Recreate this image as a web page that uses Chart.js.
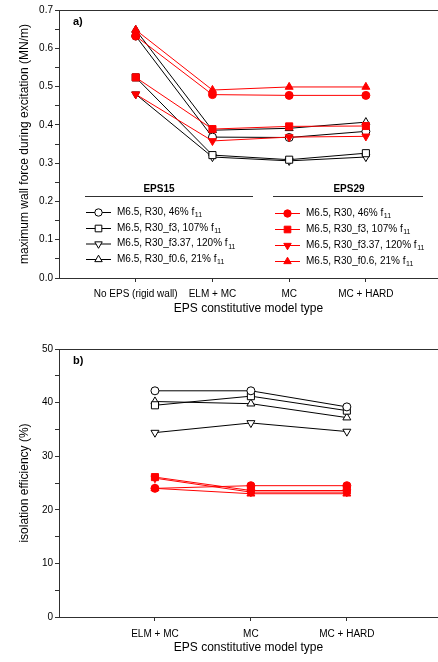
<!DOCTYPE html>
<html><head><meta charset="utf-8">
<script src="https://cdn.jsdelivr.net/npm/chart.js@4.4.0/dist/chart.umd.min.js"></script>
<style>
html,body{margin:0;padding:0;background:#fff;width:438px;height:662px;overflow:hidden}
#a{position:absolute;left:0;top:0}
#b{position:absolute;left:0;top:330px}
</style></head><body>
<canvas id="a" width="444" height="330"></canvas>
<canvas id="b" width="444" height="332"></canvas>
<script>
// ---------- data ----------
const categoriesA = ['No EPS (rigid wall)', 'ELM + MC', 'MC', 'MC + HARD'];
const categoriesB = ['ELM + MC', 'MC', 'MC + HARD'];
const seriesLabels = ['M6.5, R30, 46% f', 'M6.5, R30_f3, 107% f', 'M6.5, R30_f3.37, 120% f', 'M6.5, R30_f0.6, 21% f'];
const groupNames = ['EPS15', 'EPS29'];
const yTicksA = ['0.0','0.1','0.2','0.3','0.4','0.5','0.6','0.7'];
const yTicksB = ['0','10','20','30','40','50'];

// a) maximum wall force (MN/m)
const forceEPS15_46  = [0.632, 0.368, 0.367, 0.383];
const forceEPS15_f3  = [0.524, 0.321, 0.309, 0.326];
const forceEPS15_f337= [0.480, 0.316, 0.306, 0.316];
const forceEPS15_f06 = [0.648, 0.386, 0.391, 0.407];
const forceEPS29_46  = [0.632, 0.479, 0.477, 0.477];
const forceEPS29_f3  = [0.524, 0.389, 0.396, 0.397];
const forceEPS29_f337= [0.480, 0.358, 0.368, 0.370];
const forceEPS29_f06 = [0.648, 0.491, 0.499, 0.499];

// b) isolation efficiency (%)
const effEPS15_46  = [42.2, 42.2, 39.2];
const effEPS15_f3  = [39.5, 41.2, 38.5];
const effEPS15_f337= [34.4, 36.2, 34.6];
const effEPS15_f06 = [40.2, 39.8, 37.2];
const effEPS29_46  = [24.0, 24.5, 24.5];
const effEPS29_f3  = [26.1, 23.6, 23.6];
const effEPS29_f337= [25.9, 23.3, 23.3];
const effEPS29_f06 = [24.0, 23.0, 23.0];

// ---------- styles ----------
const FONT = '"Liberation Sans", Arial, sans-serif';
const RED = '#ff0000', BLK = '#000000', AX = '#303030';
const markers = [
  {style:'circle', rot:0, r:4},
  {style:'rect', rot:0, r:5},
  {style:'triangle', rot:180, r:4.6},
  {style:'triangle', rot:0, r:4.6}
];

function ds(values, idx, red) {
  const m = markers[idx];
  return {
    data: values.map((v, i) => ({x: i, y: v})),
    borderColor: red ? RED : BLK,
    backgroundColor: red ? RED : '#ffffff',
    borderWidth: 1,
    pointStyle: m.style,
    rotation: m.rot,
    pointRadius: m.r,
    pointBorderWidth: 1,
    pointBorderColor: red ? RED : BLK,
    pointBackgroundColor: red ? RED : '#ffffff',
    tension: 0,
    fill: false
  };
}

function drawMarker(ctx, style, rot, x, y, r, fill, stroke) {
  ctx.beginPath();
  if (style === 'circle') {
    ctx.arc(x, y, r, 0, Math.PI * 2);
  } else if (style === 'rect') {
    const s = Math.SQRT1_2 * r;
    ctx.rect(x - s, y - s, 2 * s, 2 * s);
  } else {
    let rad = rot * Math.PI / 180;
    for (let k = 0; k < 3; k++) {
      const px = x + Math.sin(rad) * r, py = y - Math.cos(rad) * r;
      if (k === 0) ctx.moveTo(px, py); else ctx.lineTo(px, py);
      rad += 2 * Math.PI / 3;
    }
    ctx.closePath();
  }
  ctx.fillStyle = fill; ctx.fill();
  ctx.lineWidth = 1; ctx.strokeStyle = stroke; ctx.stroke();
}

function drawSubText(ctx, text, x, y, color) {
  ctx.fillStyle = color;
  ctx.textAlign = 'left'; ctx.textBaseline = 'middle';
  ctx.font = '10px ' + FONT;
  ctx.fillText(text, x, y);
  const w = ctx.measureText(text).width;
  ctx.font = '7px ' + FONT;
  ctx.fillText('11', x + w + 0.5, y + 3.5);
}

function framePlugin(label, withLegend) {
  return {
    id: 'frame' + label,
    afterDraw(chart) {
      const ctx = chart.ctx, a = chart.chartArea;
      ctx.save();
      ctx.strokeStyle = AX; ctx.lineWidth = 1;
      ctx.beginPath(); ctx.moveTo(a.left, a.top + 0.5); ctx.lineTo(a.right, a.top + 0.5); ctx.stroke();
      ctx.fillStyle = '#000'; ctx.font = 'bold 11px ' + FONT;
      ctx.textAlign = 'left'; ctx.textBaseline = 'middle';
      ctx.fillText(label, 73, a.top + 12);
      if (withLegend) {
        const groups = [
          {name: groupNames[0], cx: 159, l0: 85, l1: 253, m0: 86, m1: 111, mx: 98.5, tx: 117, rows: [212, 228, 243.5, 259], red: false},
          {name: groupNames[1], cx: 349, l0: 273, l1: 423, m0: 275, m1: 300, mx: 287.5, tx: 306, rows: [213, 229, 245, 261], red: true}
        ];
        groups.forEach(g => {
          ctx.fillStyle = '#000'; ctx.font = 'bold 10px ' + FONT;
          ctx.textAlign = 'center'; ctx.textBaseline = 'middle';
          ctx.fillText(g.name, g.cx, 189);
          ctx.strokeStyle = AX; ctx.lineWidth = 1;
          ctx.beginPath(); ctx.moveTo(g.l0, 196.5); ctx.lineTo(g.l1, 196.5); ctx.stroke();
          seriesLabels.forEach((t, i) => {
            const y = g.rows[i], col = g.red ? RED : BLK, m = markers[i];
            ctx.strokeStyle = col; ctx.lineWidth = 1;
            ctx.beginPath(); ctx.moveTo(g.m0, y + 0.5); ctx.lineTo(g.m1, y + 0.5); ctx.stroke();
            drawMarker(ctx, m.style, m.rot, g.mx, y + 0.5, m.r - 0.3, g.red ? RED : '#fff', col);
            drawSubText(ctx, t, g.tx, y, '#000');
          });
        });
      }
      ctx.restore();
    }
  };
}

function makeOptions(cfg) {
  const nMinor = cfg.yTickLabels.length * 2 - 1;
  return {
    responsive: false, animation: false, devicePixelRatio: 1,
    layout: {padding: {top: cfg.padTop, left: 0, right: 0, bottom: 0}},
    plugins: {legend: {display: false}, tooltip: {enabled: false}},
    scales: {
      x: {
        type: 'linear', min: -1, max: cfg.xMax,
        afterBuildTicks: s => { s.ticks = cfg.cats.map((c, i) => ({value: i})); },
        afterFit: s => { s.height = cfg.xHeight; },
        ticks: {callback: v => cfg.cats[v] !== undefined ? cfg.cats[v] : '', autoSkip: false, maxRotation: 0, minRotation: 0,
          padding: cfg.xTickPad, color: '#000', font: {family: FONT, size: 10}},
        grid: {drawOnChartArea: false, drawTicks: true, tickLength: 4, tickColor: AX, tickWidth: 1},
        border: {display: true, color: AX, width: 1},
        title: {display: true, text: 'EPS constitutive model type', color: '#000', font: {family: FONT, size: 12},
          padding: {top: 0, bottom: cfg.xTitlePad}}
      },
      y: {
        type: 'linear', min: 0, max: cfg.yMax,
        afterBuildTicks: s => {
          const t = [];
          for (let i = 0; i < nMinor; i++) t.push({value: i * cfg.yMax / (nMinor - 1)});
          s.ticks = t;
        },
        afterFit: s => { s.width = 59; },
        ticks: {callback: (v, i) => i % 2 === 0 ? cfg.yTickLabels[i / 2] : '', autoSkip: false,
          padding: 2, color: '#000', font: {family: FONT, size: 10}},
        grid: {drawOnChartArea: false, drawTicks: true, tickLength: 4, tickColor: AX, tickWidth: 1},
        border: {display: true, color: AX, width: 1},
        title: {display: true, text: cfg.yTitle, color: '#000', font: {family: FONT, size: 12},
          padding: {top: 17, bottom: 0}}
      }
    }
  };
}

new Chart(document.getElementById('a'), {
  type: 'line',
  data: {datasets: [
    ds(forceEPS29_46, 0, true), ds(forceEPS29_f3, 1, true), ds(forceEPS29_f337, 2, true), ds(forceEPS29_f06, 3, true),
    ds(forceEPS15_46, 0, false), ds(forceEPS15_f3, 1, false), ds(forceEPS15_f337, 2, false), ds(forceEPS15_f06, 3, false)
  ]},
  options: makeOptions({cats: categoriesA, xMax: 3.94, yMax: 0.7, yTickLabels: yTicksA, padTop: 10,
    xHeight: 52, xTickPad: 6, xTitlePad: 14, yTitle: 'maximum wall force during excitation (MN/m)'}),
  plugins: [framePlugin('a)', true)]
});

new Chart(document.getElementById('b'), {
  type: 'line',
  data: {datasets: [
    ds(effEPS29_46, 0, true), ds(effEPS29_f3, 1, true), ds(effEPS29_f337, 2, true), ds(effEPS29_f06, 3, true),
    ds(effEPS15_46, 0, false), ds(effEPS15_f3, 1, false), ds(effEPS15_f337, 2, false), ds(effEPS15_f06, 3, false)
  ]},
  options: makeOptions({cats: categoriesB, xMax: 2.95, yMax: 50, yTickLabels: yTicksB, padTop: 19,
    xHeight: 45, xTickPad: 7, xTitlePad: 7, yTitle: 'isolation efficiency (%)'}),
  plugins: [framePlugin('b)', false)]
});
</script>
</body></html>
